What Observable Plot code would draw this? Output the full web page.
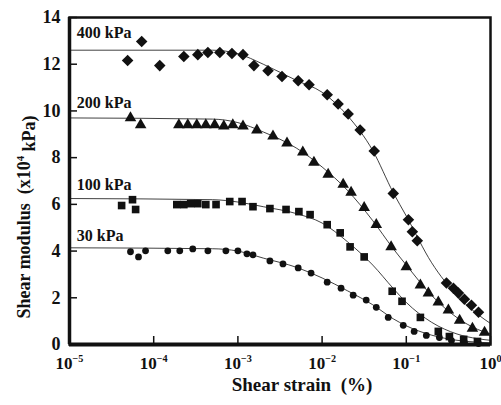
<!DOCTYPE html>
<html><head><meta charset="utf-8">
<script src="https://cdn.jsdelivr.net/npm/d3@7"></script>
<script src="https://cdn.jsdelivr.net/npm/@observablehq/plot@0.6"></script>
<style>body{margin:0;background:#fff} svg text{font-family:"Liberation Serif","DejaVu Serif",serif !important;font-weight:bold;white-space:pre}</style>
</head><body><div id="chart"></div>
<script>
// ---- data ----
const strain400 = [4.9e-5,7.2e-5,1.18e-4,2.28e-4,3.34e-4,4.4e-4,6.1e-4,8.5e-4,1.15e-3,1.55e-3,2.28e-3,3.34e-3,5.2e-3,7.0e-3,1.15e-2,1.55e-2,2.04e-2,2.83e-2,4.16e-2,7.0e-2,0.106,0.118,0.135,0.30,0.363,0.416,0.49,0.594,0.72];
const g400 = [12.16,12.97,11.94,12.33,12.41,12.5,12.5,12.46,12.41,11.94,11.72,11.47,11.29,11.12,10.69,10.3,9.87,9.18,8.28,6.47,5.34,4.83,4.44,2.63,2.41,2.2,1.94,1.68,1.38];
const strain200 = [5.3e-5,7.0e-5,1.99e-4,2.54e-4,3.25e-4,4.16e-4,5.3e-4,6.8e-4,8.7e-4,1.15e-3,1.68e-3,2.61e-3,3.83e-3,5.9e-3,8.0e-3,1.18e-2,1.78e-2,2.21e-2,3.16e-2,4.4e-2,6.6e-2,0.1,0.147,0.183,0.24,0.316,0.43,0.61,0.85];
const g200 = [9.7,9.4,9.4,9.4,9.4,9.4,9.4,9.35,9.4,9.35,9.18,8.92,8.62,8.23,7.8,7.28,6.85,6.51,5.86,5.13,4.18,3.32,2.54,2.2,1.81,1.47,1.03,0.69,0.52];
const strain100 = [4.16e-5,5.6e-5,6.1e-5,1.88e-4,2.28e-4,2.75e-4,3.34e-4,4.16e-4,5.5e-4,8.0e-4,1.12e-3,1.51e-3,2.4e-3,3.73e-3,5.3e-3,7.2e-3,1.15e-2,1.64e-2,2.15e-2,3.16e-2,6.8e-2,8.9e-2,0.147,0.24,0.325,0.48,0.70];
const g100 = [5.95,6.2,5.78,5.99,5.99,6.03,6.03,5.99,5.99,6.12,6.12,5.9,5.82,5.78,5.69,5.56,5.13,4.78,4.18,3.75,2.28,1.85,1.16,0.56,0.34,0.22,0.13];
const strain30 = [5.3e-5,6.6e-5,8.0e-5,1.47e-4,2.04e-4,2.91e-4,4.4e-4,7.2e-4,1.0e-3,1.28e-3,1.51e-3,2.4e-3,3.43e-3,5.2e-3,7.4e-3,1.15e-2,1.68e-2,2.34e-2,3.34e-2,4.4e-2,6.1e-2,9.2e-2,0.124,0.173,0.247,0.344,0.49,0.72];
const g30 = [3.97,3.75,4.01,4.01,4.01,4.09,4.01,4.01,4.01,3.88,3.84,3.58,3.45,3.28,3.06,2.67,2.41,2.11,1.9,1.59,1.16,0.82,0.56,0.39,0.30,0.17,0.09,0.04];

// fitted curves
const fitStrain = [1e-5,5e-4,1e-3,2e-3,5e-3,1e-2,2e-2,4e-2,7e-2,0.1,0.2,0.4,0.7,1];
const fit400 = [12.6,12.6,12.45,12.0,11.3,10.8,9.8,8.3,6.5,5.5,3.5,2.1,1.3,0.9];
const fit200 = [9.7,9.65,9.5,9.1,8.4,7.6,6.6,5.3,4.1,3.4,2.1,1.15,0.65,0.45];
const fit100 = [6.25,6.2,6.1,5.9,5.6,5.2,4.4,3.4,2.4,1.8,0.95,0.45,0.25,0.18];
const fit30 = [4.14,4.1,4.0,3.7,3.3,2.85,2.3,1.7,1.1,0.8,0.4,0.18,0.1,0.07];

const seriesNames = ["400 kPa","200 kPa","100 kPa","30 kPa"];
const labelStrain = [1.22e-5,1.22e-5,1.22e-5,1.22e-5];
const labelG = [13.36,10.34,6.85,4.65];

const xTickValues = [1e-5,1e-4,1e-3,1e-2,1e-1,1];
const xTickLabels = ["10^-5","10^-4","10^-3","10^-2","10^-1","10^0"];
const yTickValues = [0,2,4,6,8,10,12,14];
const xTitle = "Shear strain  (%)";
const yTitle = "Shear modulus  (x10^4 kPa)";

// ---- tables ----
const pts = (xs, ys, s) => xs.map((x, i) => ({strain: x, g: ys[i], s}));
const p400 = pts(strain400, g400, seriesNames[0]);
const p200 = pts(strain200, g200, seriesNames[1]);
const p100 = pts(strain100, g100, seriesNames[2]);
const p30 = pts(strain30, g30, seriesNames[3]);
const fits = [fit400, fit200, fit100, fit30].flatMap((f, k) => pts(fitStrain, f, seriesNames[k]));
const labels = seriesNames.map((n, i) => ({n, strain: labelStrain[i], g: labelG[i]}));

const ink = "#111";
const chart = Plot.plot({
  width: 501, height: 405,
  marginLeft: 69, marginRight: 11, marginTop: 17, marginBottom: 61,
  style: {fontFamily: "'Liberation Serif', 'DejaVu Serif', serif", fontWeight: "bold", background: "white", color: ink},
  x: {type: "log", domain: [1e-5, 1]},
  y: {domain: [0, 14]},
  marks: [
    Plot.line(fits, {x: "strain", y: "g", z: "s", curve: "monotone-x", stroke: ink, strokeWidth: 0.8}),
    Plot.dot(p400, {x: "strain", y: "g", symbol: "diamond2", r: 5.2, fill: ink}),
    Plot.dot(p200, {x: "strain", y: "g", symbol: "triangle", r: 4.3, fill: ink}),
    Plot.dot(p100, {x: "strain", y: "g", symbol: "square", r: 4.3, fill: ink}),
    Plot.dot(p30, {x: "strain", y: "g", symbol: "circle", r: 3.4, fill: ink}),
    Plot.text(labels, {x: "strain", y: "g", text: "n", textAnchor: "start", fontSize: 16, fill: ink}),
    Plot.axisX({ticks: xTickValues, tickFormat: (d) => xTickLabels[xTickValues.indexOf(d)], tickSize: -8, tickPadding: 20, fontSize: 17, label: null, strokeWidth: 1.5}),
    Plot.axisY({ticks: yTickValues, tickSize: -8, tickPadding: 17, fontSize: 18, label: null, strokeWidth: 1.5}),
    Plot.frame({stroke: ink, strokeWidth: 2.5}),
    Plot.ruleY([0], {stroke: ink, strokeWidth: 4}),
    Plot.ruleX([1e-5], {stroke: ink, strokeWidth: 3.5}),
    Plot.text([xTitle], {frameAnchor: "bottom", textAnchor: "middle", lineAnchor: "middle", dx: 22, dy: 40, fontSize: 19, fill: ink}),
    Plot.text([yTitle], {frameAnchor: "left", textAnchor: "middle", lineAnchor: "middle", rotate: -90, dx: -45, dy: 36, fontSize: 18, fill: ink})
  ]
});
// render exponents as superscripts
chart.querySelectorAll("text").forEach((t) => {
  const txt = t.textContent;
  if (!txt.includes("^")) return;
  const m = txt.match(/^(.*?)10\^(-?\d)(.*)$/);
  if (!m) return;
  t.textContent = "";
  const ns = "http://www.w3.org/2000/svg";
  const a = document.createElementNS(ns, "tspan"); a.textContent = m[1] + "10"; t.appendChild(a);
  const b = document.createElementNS(ns, "tspan"); b.textContent = m[2].replace("-", "\u2212");
  b.setAttribute("font-size", "0.6em"); b.setAttribute("dy", "-0.6em"); t.appendChild(b);
  if (m[3]) { const c = document.createElementNS(ns, "tspan"); c.textContent = m[3]; c.setAttribute("dy", "0.6em"); t.appendChild(c); }
});
document.getElementById("chart").appendChild(chart);
</script></body></html>
